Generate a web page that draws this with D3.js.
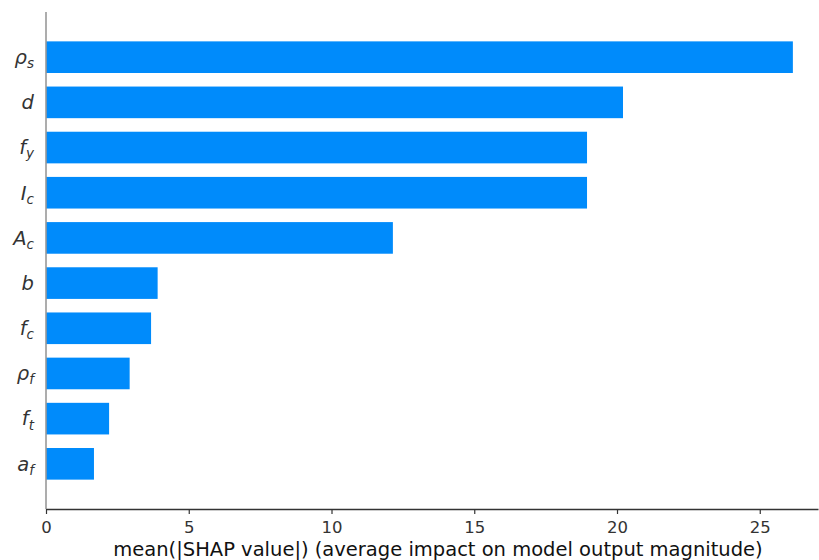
<!DOCTYPE html>
<html>
<head>
<meta charset="utf-8">
<script src="https://cdn.jsdelivr.net/npm/d3@7"></script>
<style>
  html, body { margin: 0; padding: 0; background: #fff; }
  svg { display: block; }
</style>
</head>
<body>
<svg id="chart" width="819" height="560"></svg>
<script>
// Feature names (base + subscript), ordered from most to least important
const featureBase = ["ρ", "d", "f", "I", "A", "b", "f", "ρ", "f", "a"];
const featureSub  = ["s", "",  "y", "c", "c", "",  "c", "f", "t", "f"];
// mean(|SHAP value|) for each feature
const meanAbsShap = [26.16, 20.21, 18.95, 18.95, 12.15, 3.91, 3.68, 2.93, 2.21, 1.68];
const xTicks = [0, 5, 10, 15, 20, 25];
const xLabel = "mean(|SHAP value|) (average impact on model output magnitude)";

const svg = d3.select("#chart");
const plotLeft = 46, plotRight = 818, plotTop = 12, plotBottom = 509;
const n = featureBase.length;

const x = d3.scaleLinear().domain([0, 27.04]).range([plotLeft, plotRight]);
// Feature at row i sits at position n-1-i, axis spans -1 .. n
const y = d3.scaleLinear().domain([-1, n]).range([plotBottom, plotTop]);
const barH = (y(0) - y(0.7));

const rows = d3.range(n).map(i => ({
  base: featureBase[i], sub: featureSub[i], value: meanAbsShap[i], pos: n - 1 - i
}));

// Bars
svg.append("g").selectAll("rect").data(rows).join("rect")
  .attr("x", x(0))
  .attr("y", d => y(d.pos) - barH / 2)
  .attr("width", d => x(d.value) - x(0))
  .attr("height", barH)
  .attr("fill", "#008bfb");

// Left spine
svg.append("line")
  .attr("x1", x(0)).attr("x2", x(0))
  .attr("y1", plotTop).attr("y2", plotBottom)
  .attr("stroke", "#999").attr("stroke-width", 1.6);

// Feature labels
const lab = svg.append("g").selectAll("text").data(rows).join("text")
  .attr("x", 34)
  .attr("y", d => y(d.pos))
  .attr("dy", "0.35em")
  .attr("text-anchor", "end")
  .attr("font-family", "DejaVu Sans")
  .attr("font-style", "italic")
  .attr("font-size", 19.5)
  .attr("fill", "#333");
lab.append("tspan").text(d => d.base);
lab.filter(d => d.sub).append("tspan")
  .attr("font-size", 13.5)
  .attr("dy", "0.3em")
  .text(d => d.sub);

// Bottom axis
const xAxis = d3.axisBottom(x).tickValues(xTicks).tickSize(5).tickPadding(7).tickSizeOuter(0);
const gx = svg.append("g").attr("transform", `translate(0,${plotBottom})`).call(xAxis);
gx.select(".domain").attr("stroke", "#333").attr("stroke-width", 1.6);
gx.selectAll(".tick line").attr("stroke", "#333").attr("stroke-width", 1.2);
gx.selectAll(".tick text")
  .attr("font-family", "DejaVu Sans")
  .attr("font-size", 16.5)
  .attr("fill", "#333");

svg.append("text")
  .attr("x", (113 + 763) / 2)
  .attr("y", 556)
  .attr("text-anchor", "middle")
  .attr("font-family", "DejaVu Sans")
  .attr("font-size", 19.5)
  .attr("fill", "#111")
  .text(xLabel);
</script>
</body>
</html>
